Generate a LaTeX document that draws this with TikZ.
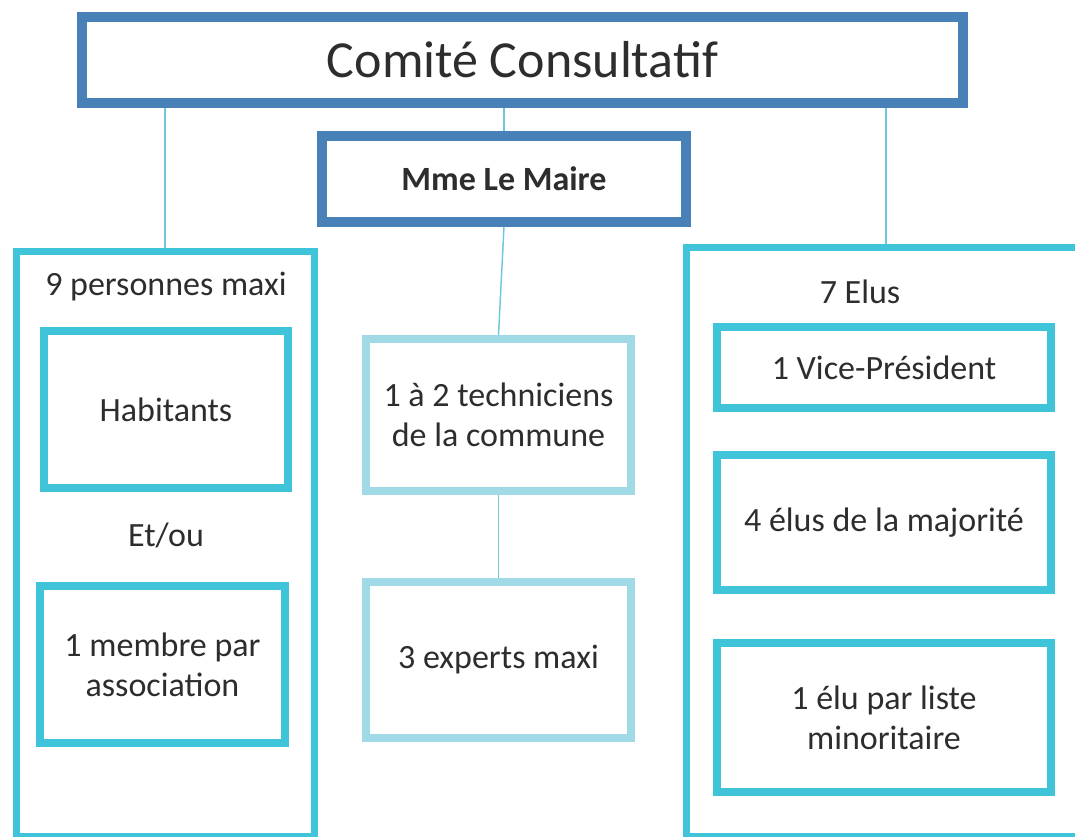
\documentclass[tikz,border=0pt]{standalone}
\usepackage{fontspec}
\setmainfont{Carlito}
\usepackage{xcolor}
\usepackage{tikz}
\definecolor{cadre}{RGB}{72,128,184}
\definecolor{cyanbox}{RGB}{64,196,218}
\definecolor{paleblue}{RGB}{160,218,230}
\definecolor{trait}{RGB}{110,200,220}
\definecolor{texte}{RGB}{45,45,45}

\begin{document}
\begin{tikzpicture}[x=0.75pt,y=0.75pt,yscale=-1,xscale=1,
  every node/.style={inner sep=0pt,text=texte,align=center,font=\fontsize{25.5}{30}\selectfont},
  chef/.style={draw=cadre,line width=7pt},
  groupe/.style={draw=cyanbox,line width=5.25pt},
  membre/.style={draw=cyanbox,line width=6pt},
  expert/.style={draw=paleblue,line width=6pt,minimum width=198.75pt},
  link/.style={draw=trait,line width=1.1pt}]
%set diagram left start at 0, and has height of 837
\useasboundingbox (0,0) rectangle (1075,837);
%Shape: Rectangle [id:comite] 
\node[chef,minimum width=660.75pt,minimum height=64.5pt,font=\fontsize{39}{47}\selectfont] (comite) at (522.5,60) {Comité Consultatif};
%Shape: Rectangle [id:maire] 
\node[chef,minimum width=273pt,minimum height=64.5pt,font=\bfseries\fontsize{25.5}{30}\selectfont] (maire) at (504,179) {Mme Le Maire};
%Shape: Rectangle [id:personnes] 
\node[groupe,minimum width=223.5pt,minimum height=438pt] (personnes) at (165,544) {};
%Shape: Rectangle [id:elus] 
\node[groupe,minimum width=300pt,minimum height=441pt] (elus) at (886,542) {};
%Shape: Rectangle [id:habitants] 
\node[membre,minimum width=183pt,minimum height=117.75pt] (habitants) at (166,409.5) {Habitants};
%Shape: Rectangle [id:associations] 
\node[membre,minimum width=183.75pt,minimum height=117.75pt] (associations) at (162.5,664.5) {1 membre par\\association};
%Shape: Rectangle [id:techniciens] 
\node[expert,minimum height=114pt] (techniciens) at (498.5,415) {1 à 2 techniciens\\de la commune};
%Shape: Rectangle [id:experts] 
\node[expert,minimum height=117pt] (experts) at (498.5,660) {3 experts maxi};
%Shape: Rectangle [id:vice] 
\node[membre,minimum width=250.5pt,minimum height=60.75pt] (vice) at (884,367.5) {1 Vice-Président};
%Shape: Rectangle [id:majorite] 
\node[membre,minimum width=250.5pt,minimum height=101.25pt] (majorite) at (884,522.5) {4 élus de la majorité};
%Shape: Rectangle [id:minorite] 
\node[membre,minimum width=250.5pt,minimum height=111.75pt] (minorite) at (884,717.5) {1 élu par liste\\minoritaire};
% Text Node
\node (maxi) at (166,287) {9 personnes maxi};
% Text Node
\node (etou) at (166,535) {Et/ou};
% Text Node
\node (sept) at (860,292) {7 Elus};
%Straight Lines
\draw[link] (comite.south -| maire.north) -- (maire.north);
\draw[link] (maire.south) -- (techniciens.north);
\draw[link] (techniciens.south) -- (experts.north);
\draw[link] (comite.south -| personnes.north) -- (personnes.north);
\draw[link] (comite.south -| elus.north) -- (elus.north);
\end{tikzpicture}
\end{document}
